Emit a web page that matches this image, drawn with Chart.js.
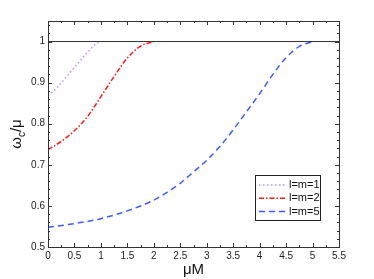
<!DOCTYPE html>
<html>
<head>
<meta charset="utf-8">
<script src="https://cdn.jsdelivr.net/npm/chart.js@4"></script>
<style>
  html, body { margin: 0; padding: 0; background: #fff; }
  #wrap { width: 374px; height: 279px; }
</style>
</head>
<body>
<div id="wrap"><canvas id="chart"></canvas></div>
<script>
// l=m=1
const x1 = [0, 0.1, 0.2, 0.3, 0.4, 0.5, 0.6, 0.7, 0.8, 0.9, 0.97];
const y1 = [0.869, 0.879, 0.892, 0.907, 0.922, 0.937, 0.952, 0.967, 0.981, 0.994, 1.0];
// l=m=2
const x2 = [0, 0.25, 0.5, 0.75, 1.0, 1.25, 1.5, 1.75, 2.0];
const y2 = [0.737, 0.757, 0.783, 0.818, 0.866, 0.915, 0.960, 0.989, 1.0];
// l=m=5
const x5 = [0, 0.5, 1.0, 1.5, 2.0, 2.25, 2.5, 2.75, 3.0, 3.25, 3.5, 3.75, 4.0, 4.25, 4.5, 4.75, 5.0];
const y5 = [0.548, 0.557, 0.569, 0.588, 0.614, 0.633, 0.655, 0.683, 0.711, 0.745, 0.785, 0.829, 0.873, 0.920, 0.961, 0.988, 1.0];
// reference line at 1
const xRef = [0, 5.5];
const yRef = [1, 1];

const labels = ["l=m=1", "l=m=2", "l=m=5"];
const xTicks = [0, 0.5, 1, 1.5, 2, 2.5, 3, 3.5, 4, 4.5, 5, 5.5];
const yTicks = [0.5, 0.6, 0.7, 0.8, 0.9, 1];

const pts = (xs, ys) => xs.map((x, i) => ({ x: x, y: ys[i] }));

const styles = [
    { color: "#c48cff", dash: [1.5, 2.5] },
    { color: "#ff1a1a", dash: [5, 2, 1.5, 2] },
    { color: "#3a5cff", dash: [6, 4] },
];

// inward ticks on all four sides + box frame
const frame = {
    id: "frame",
    afterDatasetsDraw(chart) {
        const { ctx, chartArea: a, scales } = chart;
        const xs = scales.x, ys = scales.y;
        ctx.save();
        ctx.strokeStyle = "#333";
        ctx.lineWidth = 1;
        ctx.strokeRect(Math.round(a.left) + 0.5, Math.round(a.top) + 0.5,
            Math.round(a.right - a.left), Math.round(a.bottom - a.top));
        ctx.beginPath();
        for (let v = 0; v <= 5.5001; v += 0.25) {
            const p = Math.round(xs.getPixelForValue(v)) + 0.5;
            const len = Math.abs(v * 2 - Math.round(v * 2)) < 1e-6 ? 4 : 2;
            ctx.moveTo(p, a.bottom); ctx.lineTo(p, a.bottom - len);
            ctx.moveTo(p, a.top); ctx.lineTo(p, a.top + len);
        }
        for (let k = 0; k <= 27; k++) {
            const v = 0.5 + k * 0.02;
            const p = Math.round(ys.getPixelForValue(v)) + 0.5;
            const len = k % 5 === 0 ? 4 : 2;
            ctx.moveTo(a.left, p); ctx.lineTo(a.left + len, p);
            ctx.moveTo(a.right, p); ctx.lineTo(a.right - len, p);
        }
        ctx.stroke();

        // legend box
        const bx = 255, by = 175, bw = 65, bh = 45;
        ctx.fillStyle = "#fff";
        ctx.fillRect(bx, by, bw, bh);
        ctx.strokeStyle = "#222";
        ctx.strokeRect(bx + 0.5, by + 0.5, bw, bh);
        ctx.font = "11px 'Liberation Sans', Arial, sans-serif";
        ctx.textBaseline = "middle";
        labels.forEach((t, i) => {
            const yy = by + 10 + i * 13.3;
            ctx.strokeStyle = styles[i].color;
            ctx.lineWidth = 1.5;
            ctx.setLineDash(styles[i].dash);
            ctx.beginPath();
            ctx.moveTo(bx + 4, yy); ctx.lineTo(bx + 31, yy);
            ctx.stroke();
            ctx.setLineDash([]);
            ctx.fillStyle = "#111";
            ctx.fillText(t, bx + 34, yy);
        });

        // y axis title with subscript
        ctx.translate(21, (a.top + a.bottom) / 2);
        ctx.rotate(-Math.PI / 2);
        ctx.fillStyle = "#111";
        ctx.textBaseline = "alphabetic";
        const big = "15px 'Liberation Sans', Arial, sans-serif";
        const small = "10px 'Liberation Sans', Arial, sans-serif";
        ctx.font = big;
        const w1 = ctx.measureText("\u03c9").width;
        const w3 = ctx.measureText("/\u03bc").width;
        ctx.font = small;
        const w2 = ctx.measureText("c").width;
        let x0 = -(w1 + w2 + w3) / 2;
        ctx.font = big;
        ctx.fillText("\u03c9", x0, 0);
        ctx.font = small;
        ctx.fillText("c", x0 + w1, 4);
        ctx.font = big;
        ctx.fillText("/\u03bc", x0 + w1 + w2, 0);
        ctx.restore();
    },
};

const tickFont = { family: "'Liberation Sans', Arial, sans-serif", size: 10 };

new Chart(document.getElementById("chart"), {
    type: "line",
    data: {
        datasets: [
            { label: "ref", data: pts(xRef, yRef), borderColor: "#333", borderWidth: 1, pointRadius: 0 },
            ...[[x1, y1], [x2, y2], [x5, y5]].map(([xs, ys], i) => ({
                label: labels[i],
                data: pts(xs, ys),
                borderColor: styles[i].color,
                borderDash: styles[i].dash,
                borderWidth: 1.5,
                pointRadius: 0,
                cubicInterpolationMode: "monotone",
            })),
        ],
    },
    options: {
        responsive: true,
        maintainAspectRatio: false,
        animation: false,
        layout: { padding: { left: 0, right: 35, top: 21, bottom: 0 } },
        plugins: { legend: { display: false }, tooltip: { enabled: false } },
        scales: {
            x: {
                type: "linear",
                min: 0,
                max: 5.5,
                afterBuildTicks: (s) => { s.ticks = xTicks.map((v) => ({ value: v })); },
                afterFit: (s) => { s.height = 32; },
                grid: { display: false, drawTicks: false },
                border: { display: false },
                ticks: {
                    font: tickFont,
                    color: "#222",
                    padding: 3,
                    maxRotation: 0,
                    autoSkip: false,
                    callback: (v) => String(v),
                },
                title: {
                    display: true,
                    text: "\u03bcM",
                    font: { family: "'Liberation Sans', Arial, sans-serif", size: 15 },
                    color: "#111",
                    padding: { top: 1, bottom: 0 },
                },
            },
            y: {
                min: 0.5,
                max: 1.05,
                afterBuildTicks: (s) => { s.ticks = yTicks.map((v) => ({ value: v })); },
                afterFit: (s) => { s.width = 48; },
                grid: { display: false, drawTicks: false },
                border: { display: false },
                ticks: {
                    font: tickFont,
                    color: "#222",
                    padding: 3,
                    autoSkip: false,
                    callback: (v) => String(Number(v.toFixed(1))),
                },
            },
        },
    },
    plugins: [frame],
});
</script>
</body>
</html>
